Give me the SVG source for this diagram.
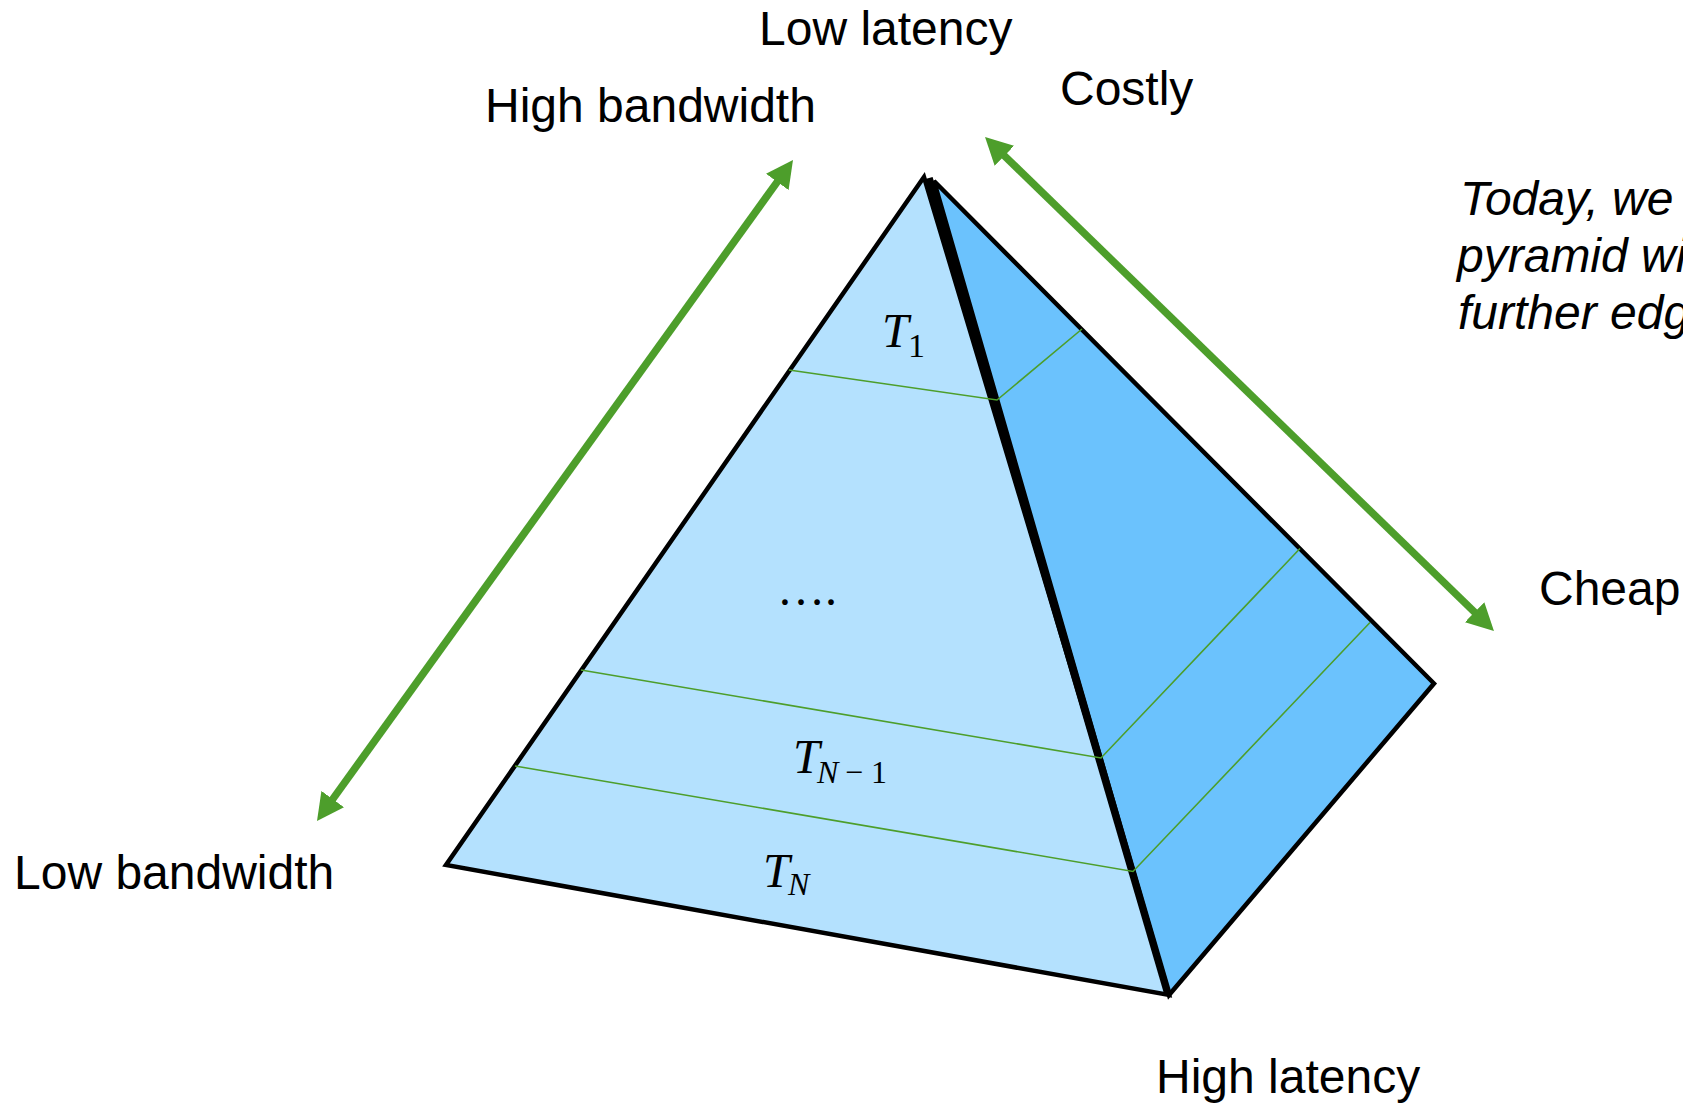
<svg xmlns="http://www.w3.org/2000/svg" width="1683" height="1103" viewBox="0 0 1683 1103">
  <style>
    .lbl { font-family: "Liberation Sans", Arial, sans-serif; font-size: 48px; fill: #000; }
    .note { font-family: "Liberation Sans", Arial, sans-serif; font-size: 48px; font-style: italic; fill: #000; }
    .math { font-family: "Liberation Serif", "DejaVu Serif", serif; font-style: italic; fill: #000; }
    .mathn { font-family: "Liberation Serif", "DejaVu Serif", serif; fill: #000; }
    .edge { stroke: #000; stroke-width: 4.5; stroke-linejoin: miter; }
    .tier { fill: none; stroke: #4D9E2B; stroke-width: 1.6; }
    .arrow { fill: none; stroke: #4D9E2B; stroke-width: 7.5; }
  </style>
  <defs>
    <marker id="head" viewBox="0 0 27 28" refX="1" refY="14" markerWidth="27" markerHeight="28" markerUnits="userSpaceOnUse" orient="auto-start-reverse">
      <path d="M0,0 L27,14 L0,28 z" fill="#4D9E2B"/>
    </marker>
  </defs>
  <rect width="1683" height="1103" fill="#fff"/>

  <g id="pyramid">
    <g id="front-face">
      <polygon class="edge" points="924,177 446,865 1169,995" fill="#B4E1FE"/>
    </g>
    <g id="right-face">
      <polygon class="edge" points="934,181 1169,995 1434,683.5" fill="#6BC2FD"/>
      <line x1="929" y1="178" x2="1168" y2="994" stroke="#000" stroke-width="7.5"/>
    </g>
    <g id="tier-lines">
      <polyline class="tier" points="789,370 997,400 1082,329"/>
      <polyline class="tier" points="581,670 1101,758 1300,548.5"/>
      <polyline class="tier" points="515,766 1133,871.5 1370,622.5"/>
    </g>
  </g>

  <g id="tier-T1">
    <text class="math" x="882" y="347" font-size="48">T</text>
    <text class="mathn" x="908" y="357" font-size="34">1</text>
  </g>
  <g id="tier-dots">
    <text class="mathn" x="777" y="605" font-size="48">….</text>
  </g>
  <g id="tier-TN1">
    <text class="math" x="793" y="773" font-size="48">T</text>
    <text class="math" x="817" y="783" font-size="32">N</text>
    <text class="mathn" x="845" y="783" font-size="32">−</text>
    <text class="mathn" x="871" y="783" font-size="32">1</text>
  </g>
  <g id="tier-TN">
    <text class="math" x="763" y="887" font-size="48">T</text>
    <text class="math" x="788" y="895" font-size="32">N</text>
  </g>

  <g id="connectors">
    <line class="arrow" x1="332.2" y1="799.9" x2="777.8" y2="181.1" marker-start="url(#head)" marker-end="url(#head)"/>
    <line class="arrow" x1="1003.7" y1="155.1" x2="1475.3" y2="612.9" marker-start="url(#head)" marker-end="url(#head)"/>
  </g>

  <g id="labels">
    <text class="lbl" x="759" y="45">Low latency</text>
    <text class="lbl" x="485" y="122">High bandwidth</text>
    <text class="lbl" x="1060" y="105">Costly</text>
    <text class="lbl" x="1539" y="605">Cheap</text>
    <text class="lbl" x="14" y="889">Low bandwidth</text>
    <text class="lbl" x="1156" y="1093">High latency</text>
  </g>
  <g id="note">
    <text class="note" x="1460" y="215">Today, we</text>
    <text class="note" x="1457" y="272">pyramid wi</text>
    <text class="note" x="1458" y="329">further edg</text>
  </g>
</svg>
